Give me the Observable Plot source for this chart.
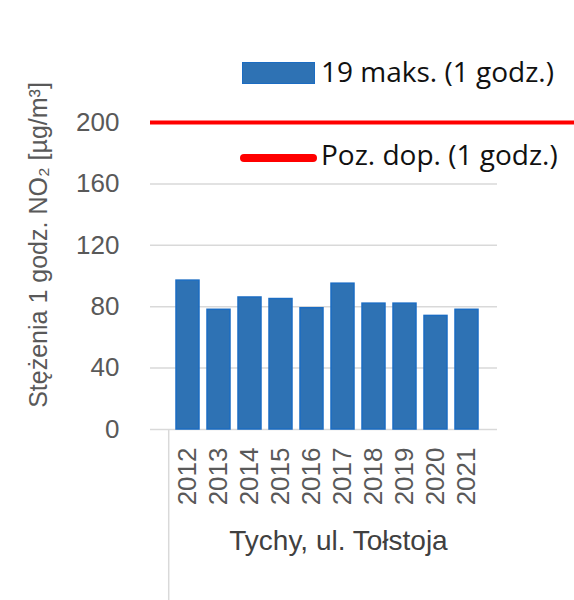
<!DOCTYPE html>
<html>
<head>
<meta charset="utf-8">
<script src="https://cdn.jsdelivr.net/npm/d3@7"></script>
<script src="https://cdn.jsdelivr.net/npm/@observablehq/plot@0.6"></script>
<style>
  html, body { margin: 0; padding: 0; background: #ffffff; }
  #wrap { position: relative; width: 574px; height: 600px; overflow: hidden; }
  .lg-text { position: absolute; font-family: "Open Sans", sans-serif; font-size: 28px; color: #111; white-space: nowrap; line-height: 1; }
</style>
</head>
<body>
<div id="wrap"></div>
<script>
// ---- data ----
const years = ["2012", "2013", "2014", "2015", "2016", "2017", "2018", "2019", "2020", "2021"];
const maxValues = [97, 78, 86, 85, 79, 95, 82, 82, 74, 78];
const limitValue = [200];
const yTicks = [0, 40, 80, 120, 160, 200];
const seriesName = "19 maks. (1 godz.)";
const limitName = "Poz. dop. (1 godz.)";
const yTitle = "Stężenia 1 godz. NO₂ [µg/m³]";
const xTitle = "Tychy, ul. Tołstoja";

const data = years.map((y, i) => ({year: y, value: maxValues[i]}));

const font = "'Liberation Sans', Arial, sans-serif";

const chart = Plot.plot({
  width: 574,
  height: 600,
  marginTop: 122,
  marginBottom: 171,
  marginLeft: 150,
  marginRight: 0,
  style: {fontFamily: font, fontSize: "26px", color: "#595959", background: "transparent"},
  x: {domain: years, paddingInner: 0.27, paddingOuter: 0.135, insetLeft: 18.7, insetRight: 88.6, label: null},
  y: {domain: [0, 200], label: null},
  marks: [
    Plot.gridY(yTicks, {stroke: "#d9d9d9", strokeOpacity: 1, strokeWidth: 1.5, insetRight: 77}),
    Plot.axisY(yTicks, {tickSize: 0, tickPadding: 31, fontSize: 26, fill: "#595959", label: null}),
    Plot.axisX({tickSize: 0, tickPadding: 18, tickRotate: -90, fontSize: 26, fill: "#595959", label: null}),
    Plot.barY(data, {x: "year", y: "value", fill: "#2e72b4", stroke: "#1b6cc2", strokeWidth: 1.5}),
    Plot.ruleY(limitValue, {stroke: "#ff0000", strokeWidth: 4}),
    Plot.text([yTitle], {text: d => d, frameAnchor: "left", textAnchor: "middle", rotate: -90, dx: -112, dy: -31, fontSize: 25, fill: "#595959"}),
    Plot.text([xTitle], {text: d => d, frameAnchor: "bottom", dx: -24, dy: 120, fontSize: 28, fill: "#404040"})
  ]
});

// category group divider from the axis down
const xs = chart.scale("x");
const ys = chart.scale("y");
d3.select(chart).append("line")
  .attr("x1", xs.range[0]).attr("x2", xs.range[0])
  .attr("y1", ys.apply(0)).attr("y2", 600)
  .attr("stroke", "#d9d9d9").attr("stroke-width", 1.5);

const wrap = document.getElementById("wrap");
wrap.appendChild(chart);

// legend overlay
const lg = d3.select(wrap);
lg.append("div").style("position", "absolute").style("left", "242px").style("top", "62px")
  .style("width", "71px").style("height", "20px").style("background", "#2e72b4")
  .style("border", "1px solid #1b6cc2");
lg.append("div").attr("class", "lg-text").style("left", "321px").style("top", "57px").text(seriesName);
lg.append("div").style("position", "absolute").style("left", "240px").style("top", "154px")
  .style("width", "77px").style("height", "8px").style("background", "#ff0000")
  .style("border-radius", "4px");
lg.append("div").attr("class", "lg-text").style("left", "321px").style("top", "140px").text(limitName);
</script>
</body>
</html>
